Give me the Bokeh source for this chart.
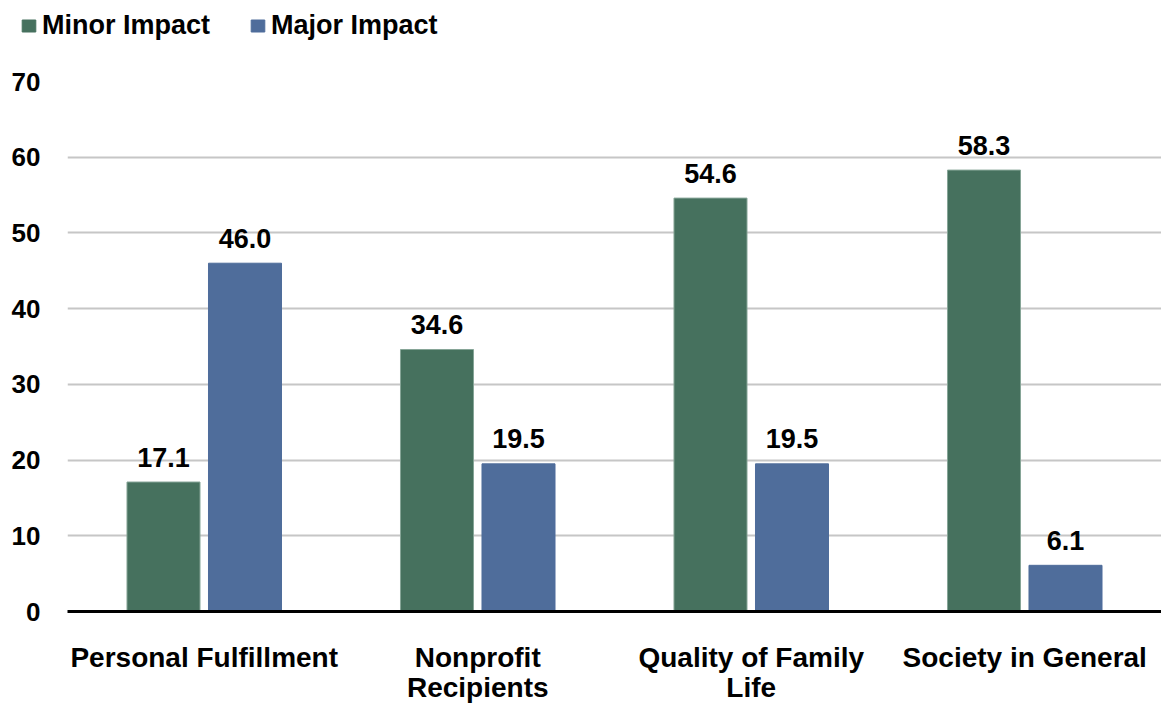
from bokeh.plotting import figure
from bokeh.models import (ColumnDataSource, FactorRange, Range1d, Legend, LegendItem,
                          FixedTicker, Column)
from bokeh.transform import dodge
from bokeh.core.properties import value
from bokeh.embed import file_html
from bokeh.resources import INLINE

categories = ["Personal Fulfillment", "Nonprofit\nRecipients", "Quality of Family\nLife", "Society in General"]
series_names = ["Minor Impact", "Major Impact"]
minor_impact = [17.1, 34.6, 54.6, 58.3]
major_impact = [46.0, 19.5, 19.5, 6.1]
y_ticks = [0, 10, 20, 30, 40, 50, 60, 70]

GREEN = "#46715E"
BLUE = "#4F6D9B"
FONT = "Liberation Sans"
TOP_H = 41

src = ColumnDataSource(dict(
    cat=categories,
    minor=minor_impact,
    major=major_impact,
    minor_txt=[f"{v:.1f}" for v in minor_impact],
    major_txt=[f"{v:.1f}" for v in major_impact],
))

# ---- legend strip ----
lg = figure(width=1161, height=TOP_H, output_backend="svg", toolbar_location=None,
            x_range=Range1d(0, 1), y_range=Range1d(0, 1),
            x_axis_type=None, y_axis_type=None,
            min_border_left=0, min_border_right=0, min_border_top=0, min_border_bottom=0)
lg.frame_align = False
lg.outline_line_color = None
lg.xgrid.visible = False
lg.ygrid.visible = False
# legend-only renderers (their data lie outside the visible range)
hidden = ColumnDataSource(dict(x=[10], top=[10]))
d1 = lg.vbar(x="x", top="top", width=0.1, source=hidden, fill_color=GREEN, line_color=GREEN)
d2 = lg.vbar(x="x", top="top", width=0.1, source=hidden, fill_color=BLUE, line_color=BLUE)
legend = Legend(items=[LegendItem(label=series_names[0], renderers=[d1]),
                       LegendItem(label=series_names[1], renderers=[d2])],
                orientation="horizontal", location=(20, 0),
                padding=0, margin=0, spacing=39, label_standoff=5,
                glyph_width=17, glyph_height=15, label_height=30,
                border_line_color=None, background_fill_alpha=0,
                label_text_font=FONT, label_text_font_style="bold",
                label_text_font_size="27px", label_text_color="black")
lg.add_layout(legend, "center")

# ---- main chart ----
p = figure(width=1161, height=705 - TOP_H, output_backend="svg", toolbar_location=None,
           x_range=FactorRange(*categories, range_padding=0),
           y_range=Range1d(0, 70),
           min_border_left=67, min_border_right=0, min_border_top=81 - TOP_H, min_border_bottom=94)
p.frame_align = False
p.outline_line_color = None
p.background_fill_color = "white"

p.vbar(x=dodge("cat", -0.149, range=p.x_range), top="minor", width=0.267, source=src,
       fill_color=GREEN, line_color="#86a597", line_width=1)
p.vbar(x=dodge("cat", 0.149, range=p.x_range), top="major", width=0.267, source=src,
       fill_color=BLUE, line_color=BLUE, line_width=1)

for col, txt, off in [("minor", "minor_txt", -0.149), ("major", "major_txt", 0.149)]:
    p.text(x=dodge("cat", off, range=p.x_range), y=col, text=txt, source=src,
           text_align="center", text_baseline="alphabetic", y_offset=-25,
           text_font=value(FONT), text_font_style="bold", text_font_size="27px", text_color="black")

p.yaxis.ticker = FixedTicker(ticks=y_ticks)
p.yaxis.axis_line_color = None
p.yaxis.major_tick_line_color = None
p.yaxis.minor_tick_line_color = None
p.yaxis.major_label_standoff = 21
p.yaxis.major_label_text_font = FONT
p.yaxis.major_label_text_font_style = "bold"
p.yaxis.major_label_text_font_size = "26px"
p.yaxis.major_label_text_color = "black"

p.xaxis.axis_line_color = "black"
p.xaxis.axis_line_width = 3
p.xaxis.major_tick_line_color = None
p.xaxis.minor_tick_line_color = None
p.xaxis.major_label_standoff = 24
p.xaxis.major_label_text_font = FONT
p.xaxis.major_label_text_font_style = "bold"
p.xaxis.major_label_text_font_size = "28px"
p.xaxis.major_label_text_color = "black"
p.xaxis.major_label_text_line_height = 0.97

p.xgrid.grid_line_color = None
p.ygrid.grid_line_color = "#c6c6c6"
p.ygrid.grid_line_width = 2

layout = Column(children=[lg, p], spacing=0)
open("out.html", "w").write(file_html(layout, INLINE))
